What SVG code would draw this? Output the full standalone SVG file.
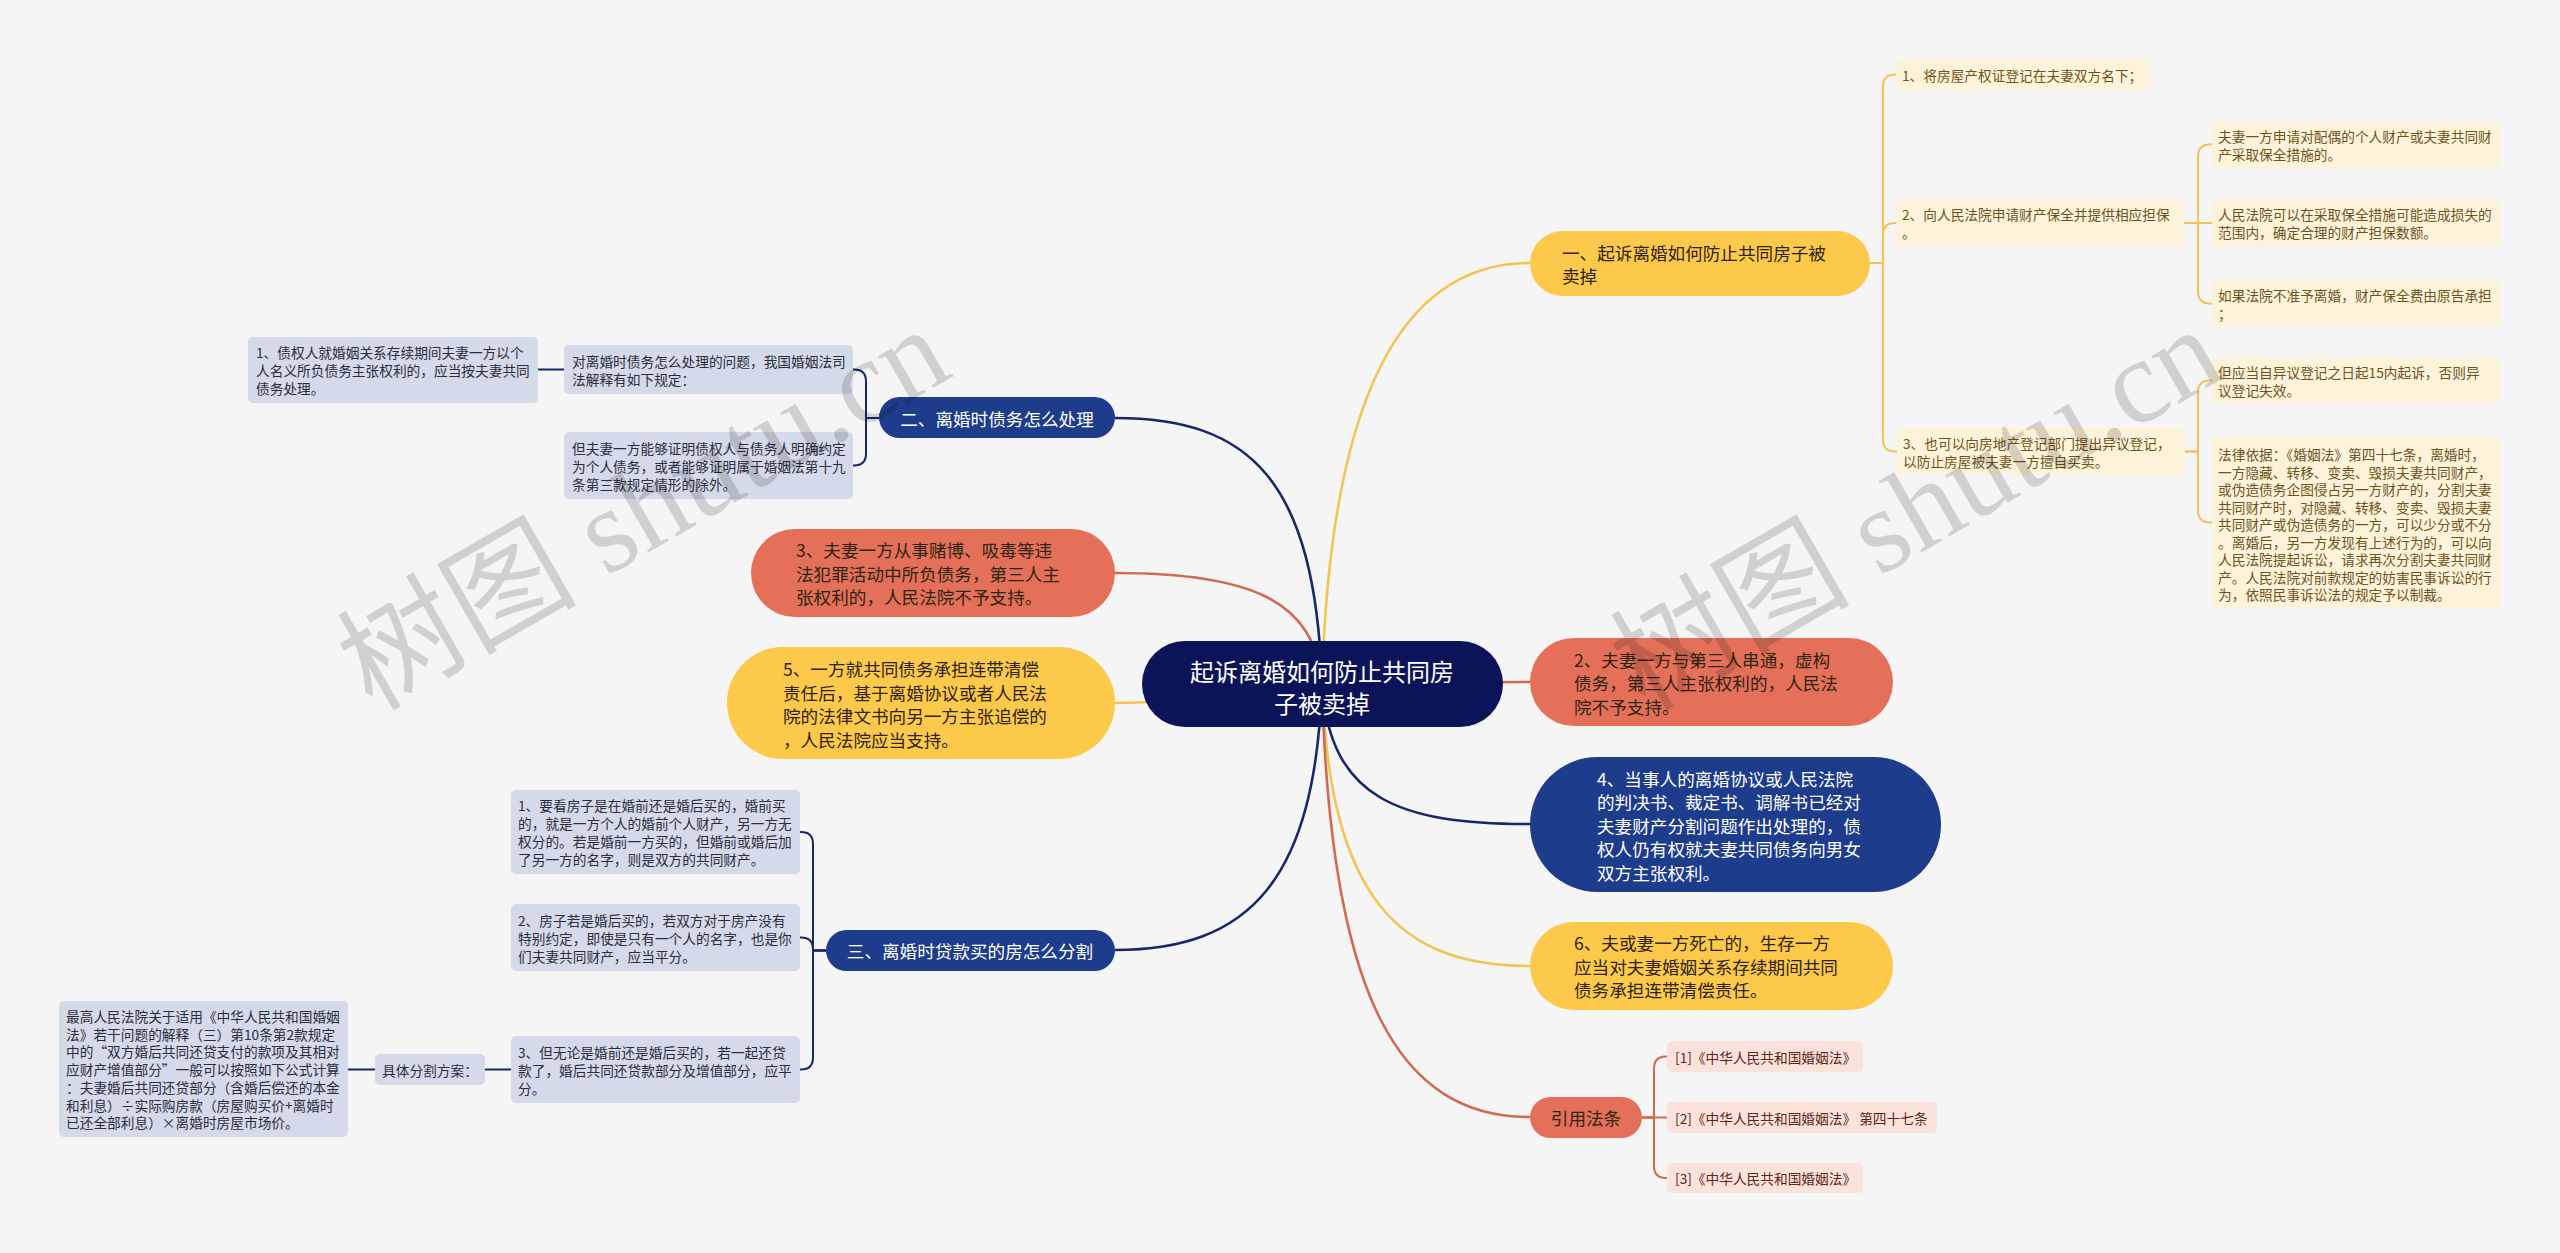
<svg xmlns="http://www.w3.org/2000/svg" width="2560" height="1253" viewBox="0 0 2560 1253">
<style>
text { font-family: "Noto Sans CJK SC", "Microsoft YaHei", sans-serif; dominant-baseline: central; }
.ct { fill: #ffffff; font-size: 24px; }
.bt { font-size: 17.6px; fill: #2e2410; }
.bw { font-size: 17.6px; fill: #ffffff; }
.lt { font-size: 13.7px; }
.ly { fill: #fdf2da; }
.lyt { fill: #6e541c; }
.ln { fill: #d4dae9; }
.lnt { fill: #2b2d3b; }
.lr { fill: #fbe3dc; }
.lrt { fill: #5e2518; }
.yel { fill: #fdc94a; }
.red { fill: #e4705a; }
.navy { fill: #1e3c8c; }
.cm { fill: none; stroke-width: 2.6; }
.cl { fill: none; stroke-width: 2; }
.sy { stroke: #f3c454; }
.sn { stroke: #17276a; }
.sr { stroke: #d26a52; }
.wm { font-family: "Liberation Serif", "Noto Sans CJK SC", serif; font-size: 120px; fill: #000; fill-opacity: 0.15; dominant-baseline: alphabetic; }
</style>
<rect width="2560" height="1253" fill="#f5f5f5"/>

<g id="connectors">
  <path class="cm sy" d="M1322 684 C1330 400 1400 263 1530 263"/>
  <path class="cm sr" d="M1322 684 C1420 684 1440 682 1530 682"/>
  <path class="cm sn" d="M1322 684 C1330 800 1400 824 1530 824"/>
  <path class="cm sy" d="M1322 684 C1330 900 1400 966 1530 966"/>
  <path class="cm sr" d="M1322 684 C1330 1000 1400 1117 1530 1117"/>
  <path class="cm sn" d="M1322 684 C1315 480 1250 418 1115 418"/>
  <path class="cm sr" d="M1322 684 C1315 600 1250 573 1115 573"/>
  <path class="cm sy" d="M1322 684 C1250 684 1200 703 1115 703"/>
  <path class="cm sn" d="M1322 684 C1315 880 1250 950 1115 950"/>

  <path class="cl sy" d="M1870 263 H1883 V86.5 Q1883 74.5 1895 74.5 H1896"/>
  <path class="cl sy" d="M1870 263 H1883 V235 Q1883 223 1895 223 H1896"/>
  <path class="cl sy" d="M1870 263 H1883 V439.5 Q1883 451.5 1895 451.5 H1897"/>
  <path class="cl sy" d="M2184 223 H2198 V156.5 Q2198 144.5 2210 144.5 H2212"/>
  <path class="cl sy" d="M2184 223 H2212"/>
  <path class="cl sy" d="M2184 223 H2198 V291.5 Q2198 303.5 2210 303.5 H2212"/>
  <path class="cl sy" d="M2185 451.5 H2198 V392.5 Q2198 380.5 2210 380.5 H2212"/>
  <path class="cl sy" d="M2185 451.5 H2198 V510.5 Q2198 522.5 2210 522.5 H2212"/>

  <path class="cl sn" d="M879 418 H866 V381.5 Q866 369.5 854 369.5 H853"/>
  <path class="cl sn" d="M879 418 H866 V453.5 Q866 465.5 854 465.5 H853"/>
  <path class="cl sn" d="M564 369.5 H538"/>

  <path class="cl sn" d="M826 950.5 H813 V844 Q813 832 801 832 H800"/>
  <path class="cl sn" d="M826 950.5 H813 V949.5 Q813 937.5 801 937.5 H800"/>
  <path class="cl sn" d="M826 950.5 H813 V1057.5 Q813 1069.5 801 1069.5 H800"/>
  <path class="cl sn" d="M511 1069.5 H485"/>
  <path class="cl sn" d="M375 1069.5 H348"/>

  <path class="cl sr" d="M1642 1117.5 H1654 V1068.5 Q1654 1056.5 1666 1056.5 H1667"/>
  <path class="cl sr" d="M1642 1117.5 H1667"/>
  <path class="cl sr" d="M1642 1117.5 H1654 V1166 Q1654 1178 1666 1178 H1667"/>
</g>

<g id="center">
  <rect x="1142" y="641" width="361" height="86" rx="43" fill="#0c1459"/>
  <text class="ct" x="1322" y="670" text-anchor="middle">起诉离婚如何防止共同房</text>
  <text class="ct" x="1322" y="702" text-anchor="middle">子被卖掉</text>
</g>

<g id="b1">
  <rect class="yel" x="1530" y="231" width="340" height="65" rx="32.5"/>
  <text class="bt" x="1562" y="252">一、起诉离婚如何防止共同房子被</text>
  <text class="bt" x="1562" y="275">卖掉</text>
</g>
<g id="b1-1">
  <rect class="ly" x="1896" y="59" width="255" height="31" rx="5"/>
  <text class="lt lyt" x="1902" y="74.5">1、将房屋产权证登记在夫妻双方名下；</text>
</g>
<g id="b1-2">
  <rect class="ly" x="1896" y="199" width="288" height="48" rx="5"/>
  <text class="lt lyt" x="1902" y="214">2、向人民法院申请财产保全并提供相应担保</text>
  <text class="lt lyt" x="1902" y="232">。</text>
</g>
<g id="b1-2-1">
  <rect class="ly" x="2212" y="121" width="288" height="47" rx="5"/>
  <text class="lt lyt" x="2218" y="135.5">夫妻一方申请对配偶的个人财产或夫妻共同财</text>
  <text class="lt lyt" x="2218" y="153.5">产采取保全措施的。</text>
</g>
<g id="b1-2-2">
  <rect class="ly" x="2212" y="199" width="288" height="48" rx="5"/>
  <text class="lt lyt" x="2218" y="214">人民法院可以在采取保全措施可能造成损失的</text>
  <text class="lt lyt" x="2218" y="232">范围内，确定合理的财产担保数额。</text>
</g>
<g id="b1-2-3">
  <rect class="ly" x="2212" y="280" width="288" height="47" rx="5"/>
  <text class="lt lyt" x="2218" y="294.5">如果法院不准予离婚，财产保全费由原告承担</text>
  <text class="lt lyt" x="2218" y="312.5">；</text>
</g>
<g id="b1-3">
  <rect class="ly" x="1897" y="428" width="288" height="47" rx="5"/>
  <text class="lt lyt" x="1903" y="442.5">3、也可以向房地产登记部门提出异议登记，</text>
  <text class="lt lyt" x="1903" y="460.5">以防止房屋被夫妻一方擅自买卖。</text>
</g>
<g id="b1-3-1">
  <rect class="ly" x="2212" y="358" width="288" height="45" rx="5"/>
  <text class="lt lyt" x="2218" y="371.5">但应当自异议登记之日起15内起诉，否则异</text>
  <text class="lt lyt" x="2218" y="389.5">议登记失效。</text>
</g>
<g id="b1-3-2">
  <rect class="ly" x="2212" y="437" width="288" height="171" rx="5"/>
  <text class="lt lyt" x="2218" y="454">法律依据：《婚姻法》第四十七条，离婚时，</text>
  <text class="lt lyt" x="2218" y="471.5">一方隐藏、转移、变卖、毁损夫妻共同财产，</text>
  <text class="lt lyt" x="2218" y="489">或伪造债务企图侵占另一方财产的，分割夫妻</text>
  <text class="lt lyt" x="2218" y="506.5">共同财产时，对隐藏、转移、变卖、毁损夫妻</text>
  <text class="lt lyt" x="2218" y="524">共同财产或伪造债务的一方，可以少分或不分</text>
  <text class="lt lyt" x="2218" y="541.5">。离婚后，另一方发现有上述行为的，可以向</text>
  <text class="lt lyt" x="2218" y="559">人民法院提起诉讼，请求再次分割夫妻共同财</text>
  <text class="lt lyt" x="2218" y="576.5">产。人民法院对前款规定的妨害民事诉讼的行</text>
  <text class="lt lyt" x="2218" y="594">为，依照民事诉讼法的规定予以制裁。</text>
</g>

<g id="b2r">
  <rect class="red" x="1530" y="638" width="363" height="88" rx="44"/>
  <text class="bt" x="1574" y="659">2、夫妻一方与第三人串通，虚构</text>
  <text class="bt" x="1574" y="682.5">债务，第三人主张权利的，人民法</text>
  <text class="bt" x="1574" y="706">院不予支持。</text>
</g>
<g id="b4">
  <rect class="navy" x="1530" y="757" width="411" height="135" rx="67.5"/>
  <text class="bw" x="1597" y="778">4、当事人的离婚协议或人民法院</text>
  <text class="bw" x="1597" y="801.5">的判决书、裁定书、调解书已经对</text>
  <text class="bw" x="1597" y="825">夫妻财产分割问题作出处理的，债</text>
  <text class="bw" x="1597" y="848.5">权人仍有权就夫妻共同债务向男女</text>
  <text class="bw" x="1597" y="872">双方主张权利。</text>
</g>
<g id="b6">
  <rect class="yel" x="1530" y="922" width="363" height="88" rx="44"/>
  <text class="bt" x="1574" y="942.5">6、夫或妻一方死亡的，生存一方</text>
  <text class="bt" x="1574" y="966">应当对夫妻婚姻关系存续期间共同</text>
  <text class="bt" x="1574" y="989.5">债务承担连带清偿责任。</text>
</g>
<g id="cite">
  <rect class="red" x="1530" y="1097" width="112" height="41" rx="20.5"/>
  <text class="bt" x="1586" y="1117.5" text-anchor="middle">引用法条</text>
</g>
<g id="cite-1">
  <rect class="lr" x="1667" y="1041" width="196" height="31" rx="5"/>
  <text class="lt lrt" x="1675" y="1056.5">[1]《中华人民共和国婚姻法》</text>
</g>
<g id="cite-2">
  <rect class="lr" x="1667" y="1102" width="270" height="31" rx="5"/>
  <text class="lt lrt" x="1675" y="1117.5">[2]《中华人民共和国婚姻法》 第四十七条</text>
</g>
<g id="cite-3">
  <rect class="lr" x="1667" y="1163" width="196" height="30" rx="5"/>
  <text class="lt lrt" x="1675" y="1178">[3]《中华人民共和国婚姻法》</text>
</g>

<g id="b2">
  <rect class="navy" x="879" y="397" width="236" height="41" rx="20.5"/>
  <text class="bw" x="997" y="418" text-anchor="middle">二、离婚时债务怎么处理</text>
</g>
<g id="b2-1">
  <rect class="ln" x="564" y="345" width="289" height="49" rx="5"/>
  <text class="lt lnt" x="572" y="360.5">对离婚时债务怎么处理的问题，我国婚姻法司</text>
  <text class="lt lnt" x="572" y="378.5">法解释有如下规定：</text>
</g>
<g id="b2-1-1">
  <rect class="ln" x="248" y="337" width="290" height="66" rx="5"/>
  <text class="lt lnt" x="256" y="352">1、债权人就婚姻关系存续期间夫妻一方以个</text>
  <text class="lt lnt" x="256" y="370">人名义所负债务主张权利的，应当按夫妻共同</text>
  <text class="lt lnt" x="256" y="388">债务处理。</text>
</g>
<g id="b2-2">
  <rect class="ln" x="564" y="432" width="289" height="67" rx="5"/>
  <text class="lt lnt" x="572" y="447.5">但夫妻一方能够证明债权人与债务人明确约定</text>
  <text class="lt lnt" x="572" y="465.5">为个人债务，或者能够证明属于婚姻法第十九</text>
  <text class="lt lnt" x="572" y="483.5">条第三款规定情形的除外。</text>
</g>

<g id="b3r">
  <rect class="red" x="751" y="529" width="364" height="88" rx="44"/>
  <text class="bt" x="796" y="549.5">3、夫妻一方从事赌博、吸毒等违</text>
  <text class="bt" x="796" y="573">法犯罪活动中所负债务，第三人主</text>
  <text class="bt" x="796" y="596.5">张权利的，人民法院不予支持。</text>
</g>
<g id="b5">
  <rect class="yel" x="727" y="647" width="388" height="112" rx="56"/>
  <text class="bt" x="783" y="668.75">5、一方就共同债务承担连带清偿</text>
  <text class="bt" x="783" y="692.25">责任后，基于离婚协议或者人民法</text>
  <text class="bt" x="783" y="715.75">院的法律文书向另一方主张追偿的</text>
  <text class="bt" x="783" y="739.25">，人民法院应当支持。</text>
</g>

<g id="b3">
  <rect class="navy" x="826" y="930" width="289" height="41" rx="20.5"/>
  <text class="bw" x="970" y="950.5" text-anchor="middle">三、离婚时贷款买的房怎么分割</text>
</g>
<g id="b3-1">
  <rect class="ln" x="511" y="790" width="289" height="84" rx="5"/>
  <text class="lt lnt" x="518" y="805">1、要看房子是在婚前还是婚后买的，婚前买</text>
  <text class="lt lnt" x="518" y="823">的，就是一方个人的婚前个人财产，另一方无</text>
  <text class="lt lnt" x="518" y="841">权分的。若是婚前一方买的，但婚前或婚后加</text>
  <text class="lt lnt" x="518" y="859">了另一方的名字，则是双方的共同财产。</text>
</g>
<g id="b3-2">
  <rect class="ln" x="511" y="904" width="289" height="67" rx="5"/>
  <text class="lt lnt" x="518" y="919.5">2、房子若是婚后买的，若双方对于房产没有</text>
  <text class="lt lnt" x="518" y="937.5">特别约定，即使是只有一个人的名字，也是你</text>
  <text class="lt lnt" x="518" y="955.5">们夫妻共同财产，应当平分。</text>
</g>
<g id="b3-3">
  <rect class="ln" x="511" y="1036" width="289" height="67" rx="5"/>
  <text class="lt lnt" x="518" y="1051.5">3、但无论是婚前还是婚后买的，若一起还贷</text>
  <text class="lt lnt" x="518" y="1069.5">款了，婚后共同还贷款部分及增值部分，应平</text>
  <text class="lt lnt" x="518" y="1087.5">分。</text>
</g>
<g id="b3-3-1">
  <rect class="ln" x="375" y="1054" width="110" height="31" rx="5"/>
  <text class="lt lnt" x="382" y="1069.5">具体分割方案：</text>
</g>
<g id="b3-3-1-1">
  <rect class="ln" x="59" y="1001" width="289" height="136" rx="5"/>
  <text class="lt lnt" x="66" y="1016">最高人民法院关于适用《中华人民共和国婚姻</text>
  <text class="lt lnt" x="66" y="1033.7">法》若干问题的解释（三）第10条第2款规定</text>
  <text class="lt lnt" x="66" y="1051.4">中的“双方婚后共同还贷支付的款项及其相对</text>
  <text class="lt lnt" x="66" y="1069.1">应财产增值部分”一般可以按照如下公式计算</text>
  <text class="lt lnt" x="66" y="1086.8">：夫妻婚后共同还贷部分（含婚后偿还的本金</text>
  <text class="lt lnt" x="66" y="1104.5">和利息）÷实际购房款（房屋购买价+离婚时</text>
  <text class="lt lnt" x="66" y="1122.2">已还全部利息）×离婚时房屋市场价。</text>
</g>

<g id="watermark">
  <text class="wm" transform="translate(372,712) rotate(-30)">树图 shutu.cn</text>
  <text class="wm" transform="translate(1645,712) rotate(-30)">树图 shutu.cn</text>
</g>
</svg>
